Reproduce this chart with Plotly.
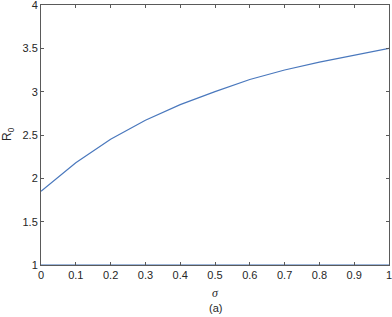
import plotly.graph_objects as go

sigma = [0, 0.1, 0.2, 0.3, 0.4, 0.5, 0.6, 0.7, 0.8, 0.9, 1.0]
r0 = [1.85, 2.18, 2.45, 2.67, 2.85, 3.00, 3.14, 3.25, 3.34, 3.42, 3.50]
threshold_x = [0, 1]
threshold_y = [1, 1]
x_ticks = [0, 0.1, 0.2, 0.3, 0.4, 0.5, 0.6, 0.7, 0.8, 0.9, 1]
x_tick_labels = ["0", "0.1", "0.2", "0.3", "0.4", "0.5", "0.6", "0.7", "0.8", "0.9", "1"]
y_ticks = [1, 1.5, 2, 2.5, 3, 3.5, 4]
y_tick_labels = ["1", "1.5", "2", "2.5", "3", "3.5", "4"]

line_color = "#4a78bd"
axis_color = "#5a5a5a"

W, H = 392, 317
ML, MR, MT, MB = 41, 3, 5, 52
plot_w = W - ML - MR
plot_h = H - MT - MB

fig = go.Figure()
fig.add_trace(go.Scatter(x=sigma, y=r0, mode="lines",
                         line=dict(color=line_color, width=1.2), showlegend=False))
fig.add_trace(go.Scatter(x=threshold_x, y=threshold_y, mode="lines",
                         line=dict(color="#7d9ccc", width=1.6), showlegend=False,
                         cliponaxis=False))

axis_common = dict(showgrid=False, zeroline=False, showline=True, linecolor=axis_color,
                   linewidth=1, mirror="ticks", ticks="inside", ticklen=3,
                   tickcolor=axis_color, tickwidth=1, automargin=False,
                   ticklabeloverflow="allow",
                   tickfont=dict(family="Liberation Sans, Arial", size=11, color="#262626"))

fig.update_layout(
    width=W, height=H,
    margin=dict(l=ML, r=MR, t=MT, b=MB, autoexpand=False),
    paper_bgcolor="white", plot_bgcolor="white",
    xaxis=dict(range=[0, 1], tickvals=x_ticks, ticktext=x_tick_labels, **axis_common),
    yaxis=dict(range=[1, 4], tickvals=y_ticks, ticktext=y_tick_labels, **axis_common),
    annotations=[
        dict(text="<i>σ</i>", x=0.5, xref="paper",
             y=(H - MB - 293) / plot_h, yref="paper", yanchor="middle",
             showarrow=False,
             font=dict(family="Liberation Serif, Times New Roman", size=12, color="#262626")),
        dict(text="(a)", x=0.5, xref="paper",
             y=(H - MB - 308) / plot_h, yref="paper", yanchor="middle",
             showarrow=False,
             font=dict(family="Liberation Sans, Arial", size=11, color="#262626")),
        dict(text="R<sub>0</sub>", x=(8 - ML) / plot_w, xref="paper",
             y=(H - MB - 134) / plot_h, yref="paper", xanchor="center", yanchor="middle",
             showarrow=False, textangle=-90,
             font=dict(family="Liberation Sans, Arial", size=12, color="#262626")),
    ],
)

fig.write_html("out.html",
               config={"displayModeBar": False},
               post_script="document.body.style.margin='0';document.body.style.overflow='hidden';")
